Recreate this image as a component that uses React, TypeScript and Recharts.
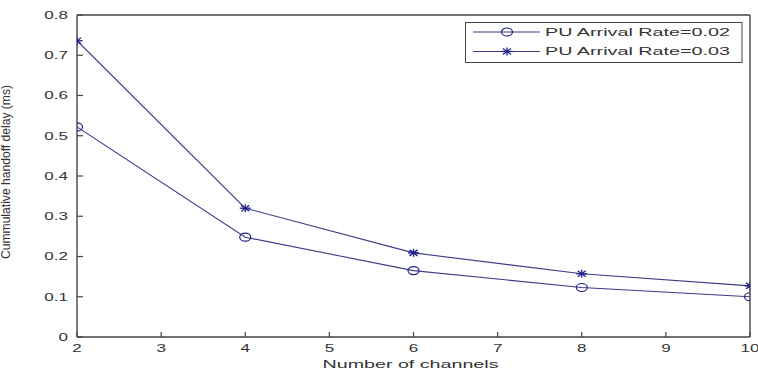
import React from 'react';
import { LineChart, Line, XAxis, YAxis, Legend, Label } from 'recharts';

const channels = [2, 4, 6, 8, 10];
const rate002 = [0.522, 0.248, 0.165, 0.123, 0.1];
const rate003 = [0.736, 0.32, 0.209, 0.157, 0.127];
const xTicks = [2, 3, 4, 5, 6, 7, 8, 9, 10];
const yTicks = [0, 0.1, 0.2, 0.3, 0.4, 0.5, 0.6, 0.7, 0.8];
const yTickLabels = ['0', '0.1', '0.2', '0.3', '0.4', '0.5', '0.6', '0.7', '0.8'];
const seriesNames = ['PU Arrival Rate=0.02', 'PU Arrival Rate=0.03'];
const xTitle = 'Number of channels';
const yTitle = 'Cummulative handoff delay (ms)';

const data = channels.map((c, i) => ({ ch: c, r2: rate002[i], r3: rate003[i] }));

const FONT = "'Liberation Sans', Arial, Helvetica, sans-serif";
const TEXT = '#333333';
const AXIS = '#454545';
const LINE = '#3c3c88';
const MARK = '#1c1c8a';

const CircleMark = ({ cx, cy }: { cx: number; cy: number }) => (
  <ellipse cx={cx} cy={cy} rx={5.5} ry={4} fill="none" stroke={MARK} strokeWidth={1.2} />
);
const StarMark = ({ cx, cy }: { cx: number; cy: number }) => (
  <g stroke={MARK} strokeWidth={1.3}>
    <line x1={cx - 5.5} y1={cy} x2={cx + 5.5} y2={cy} />
    <line x1={cx} y1={cy - 4} x2={cx} y2={cy + 4} />
    <line x1={cx - 4} y1={cy - 3} x2={cx + 4} y2={cy + 3} />
    <line x1={cx - 4} y1={cy + 3} x2={cx + 4} y2={cy - 3} />
  </g>
);

const circleDot = (p: any) => <CircleMark key={`c${p.index}`} cx={p.cx} cy={p.cy} />;
const starDot = (p: any) => <StarMark key={`s${p.index}`} cx={p.cx} cy={p.cy} />;

const YTick = (p: any) => {
  const idx = yTicks.findIndex((v) => Math.abs(v - p.payload.value) < 1e-9);
  return (
    <g transform={`translate(${p.x},${p.y}) scale(1.55,1)`}>
      <text x={0} y={0} dy="0.36em" textAnchor="end" fontSize={11} fontFamily={FONT} fill={TEXT}>
        {idx >= 0 ? yTickLabels[idx] : String(p.payload.value)}
      </text>
    </g>
  );
};

const XTick = (p: any) => (
  <g transform={`translate(${p.x},${p.y}) scale(1.55,1)`}>
    <text x={0} y={0} textAnchor="middle" fontSize={11} fontFamily={FONT} fill={TEXT}>
      {String(p.payload.value)}
    </text>
  </g>
);

const YTitle = (p: any) => {
  const vb = p.viewBox || { x: 17, y: 15, width: 60, height: 322 };
  const cx = vb.x - 7;
  const cy = vb.y + vb.height / 2 - 4;
  return (
    <text
      x={cx}
      y={cy}
      transform={`rotate(-90 ${cx} ${cy})`}
      textAnchor="middle"
      fontSize={12}
      fontFamily={FONT}
      fill={TEXT}
      textLength={174}
      lengthAdjust="spacingAndGlyphs"
    >
      {yTitle}
    </text>
  );
};

const XTitle = (p: any) => {
  const vb = p.viewBox || { x: 77, y: 337, width: 673, height: 30 };
  const cx = vb.x + vb.width / 2 - 3;
  const cy = vb.y + 31;
  return (
    <text
      x={cx}
      y={cy}
      textAnchor="middle"
      fontSize={11}
      fontFamily={FONT}
      fill={TEXT}
      textLength={176}
      lengthAdjust="spacingAndGlyphs"
    >
      {xTitle}
    </text>
  );
};

const LegendBox = () => (
  <svg width={278} height={41} style={{ display: 'block' }}>
    <rect x={0.5} y={0.5} width={276.5} height={40} fill="#ffffff" stroke={AXIS} strokeWidth={1} />
    {seriesNames.map((name, i) => {
      const y = 10 + i * 19.5;
      return (
        <g key={name}>
          <line x1={8} x2={75} y1={y} y2={y} stroke={LINE} strokeWidth={1.1} />
          {i === 0 ? <CircleMark cx={42} cy={y} /> : <StarMark cx={42} cy={y} />}
          <text
            x={80}
            y={y}
            dy="0.36em"
            fontSize={11}
            fontFamily={FONT}
            fill={TEXT}
            textLength={185}
            lengthAdjust="spacingAndGlyphs"
          >
            {name}
          </text>
        </g>
      );
    })}
  </svg>
);

export default function App() {
  return (
    <div style={{ position: 'absolute', left: 0, top: 0, width: 758, height: 371, background: '#ffffff' }}>
      <LineChart width={758} height={371} data={data} margin={{ top: 5, right: 0, bottom: 4, left: 17 }}>
        <XAxis
          xAxisId="b"
          dataKey="ch"
          type="number"
          domain={[2, 10]}
          ticks={xTicks}
          allowDataOverflow
          orientation="bottom"
          height={30}
          axisLine={{ stroke: AXIS, strokeWidth: 1.4 }}
          tickLine={{ stroke: AXIS, strokeWidth: 1.2 }}
          tickSize={-5}
          tickMargin={20}
          tick={XTick}
          interval={0}
        >
          <Label content={XTitle} />
        </XAxis>
        <XAxis
          xAxisId="t"
          dataKey="ch"
          type="number"
          domain={[2, 10]}
          ticks={xTicks}
          allowDataOverflow
          orientation="top"
          height={10}
          axisLine={{ stroke: AXIS, strokeWidth: 1.4 }}
          tickLine={{ stroke: AXIS, strokeWidth: 1.2 }}
          tickSize={-5}
          tick={false}
          interval={0}
        />
        <YAxis
          yAxisId="l"
          type="number"
          domain={[0, 0.8]}
          ticks={yTicks}
          allowDataOverflow
          orientation="left"
          width={60}
          axisLine={{ stroke: AXIS, strokeWidth: 1.4 }}
          tickLine={{ stroke: AXIS, strokeWidth: 1.2 }}
          tickSize={-6}
          tickMargin={15}
          tick={YTick}
          interval={0}
        >
          <Label content={YTitle} />
        </YAxis>
        <YAxis
          yAxisId="r"
          type="number"
          domain={[0, 0.8]}
          ticks={yTicks}
          allowDataOverflow
          orientation="right"
          width={8}
          axisLine={{ stroke: AXIS, strokeWidth: 1.4 }}
          tickLine={{ stroke: AXIS, strokeWidth: 1.2 }}
          tickSize={-6}
          tick={false}
          interval={0}
        />
        <Line
          xAxisId="b"
          yAxisId="l"
          type="linear"
          dataKey="r2"
          name={seriesNames[0]}
          stroke={LINE}
          strokeWidth={1.1}
          dot={circleDot}
          activeDot={false}
          isAnimationActive={false}
        />
        <Line
          xAxisId="b"
          yAxisId="l"
          type="linear"
          dataKey="r3"
          name={seriesNames[1]}
          stroke={LINE}
          strokeWidth={1.1}
          dot={starDot}
          activeDot={false}
          isAnimationActive={false}
        />
        <Legend
          layout="vertical"
          align="center"
          verticalAlign="middle"
          content={LegendBox}
          wrapperStyle={{ left: 465, top: 22, width: 278, height: 41 }}
        />
      </LineChart>
    </div>
  );
}
